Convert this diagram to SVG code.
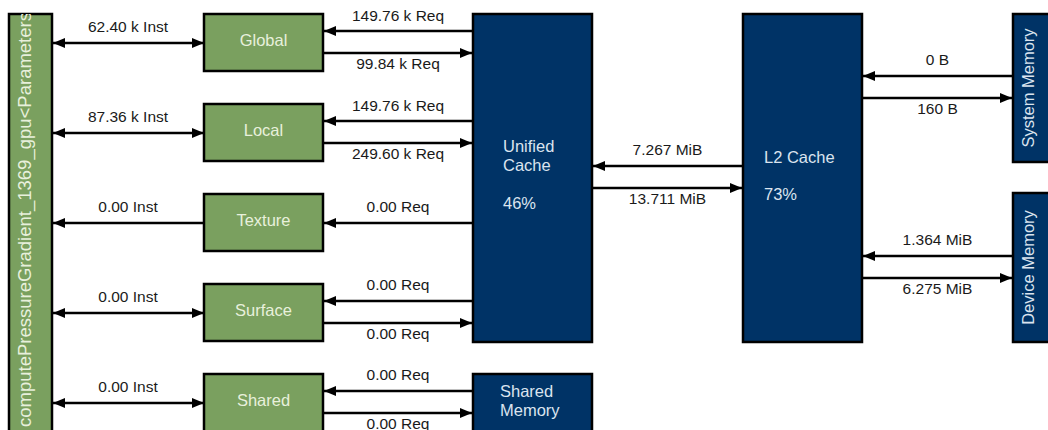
<svg xmlns="http://www.w3.org/2000/svg" width="1048" height="430" viewBox="0 0 1048 430">
<style>
.g{fill:#7aa05f;stroke:#000;stroke-width:2.5}
.b{fill:#003366;stroke:#000;stroke-width:2.5}
.gt{fill:#e8f0dc;font-family:"Liberation Sans",Arial,sans-serif;font-size:16.5px}
.bt{fill:#dbe4ef;font-family:"Liberation Sans",Arial,sans-serif;font-size:16.5px}
.lbl{fill:#1a1a1a;font-family:"Liberation Sans",Arial,sans-serif;font-size:15.5px;text-anchor:middle}
.c line{stroke:#000;stroke-width:2.3}
.m{text-anchor:middle}
</style>
<defs>
<marker id="ah" viewBox="0 0 12 10" refX="12" refY="5" markerWidth="12" markerHeight="10" markerUnits="userSpaceOnUse" orient="auto-start-reverse">
<path d="M0,0 L12,5 L0,10 z" fill="#000"/>
</marker>
<clipPath id="kc"><rect x="9" y="14" width="43" height="430"/></clipPath>
</defs>
<g id="kernel">
<rect class="g" x="9" y="14" width="43" height="430"/>
<g clip-path="url(#kc)"><text class="gt" style="font-size:18.5px" transform="translate(31,427) rotate(-90)">computePressureGradient_1369_gpu&lt;Parameters</text></g>
</g>
<g id="global"><rect class="g" x="204" y="14" width="119" height="57"/><text class="gt m" x="263.5" y="46">Global</text></g>
<g id="local"><rect class="g" x="204" y="104" width="119" height="57"/><text class="gt m" x="263.5" y="136">Local</text></g>
<g id="texture"><rect class="g" x="204" y="194" width="119" height="57"/><text class="gt m" x="263.5" y="226">Texture</text></g>
<g id="surface"><rect class="g" x="204" y="284" width="119" height="57"/><text class="gt m" x="263.5" y="316">Surface</text></g>
<g id="shared"><rect class="g" x="204" y="374" width="119" height="70"/><text class="gt m" x="263.5" y="406">Shared</text></g>
<g id="unified"><rect class="b" x="473" y="14" width="119" height="328"/><text class="bt" x="503" y="152">Unified</text><text class="bt" x="503" y="171">Cache</text><text class="bt" x="503" y="209">46%</text></g>
<g id="sharedmem"><rect class="b" x="473" y="374" width="119" height="70"/><text class="bt" x="500" y="397">Shared</text><text class="bt" x="500" y="416">Memory</text></g>
<g id="l2"><rect class="b" x="743" y="14" width="119" height="328"/><text class="bt" x="764" y="163">L2 Cache</text><text class="bt" x="764" y="200">73%</text></g>
<g id="sysmem"><rect class="b" x="1013" y="14" width="50" height="148"/><text class="bt m" transform="translate(1034,88) rotate(-90)">System Memory</text></g>
<g id="devmem"><rect class="b" x="1013" y="193" width="50" height="149"/><text class="bt m" transform="translate(1034,267.5) rotate(-90)">Device Memory</text></g>
<g id="connectors" class="c">
<line x1="53" y1="43" x2="204" y2="43" marker-start="url(#ah)" marker-end="url(#ah)"/>
<line x1="53" y1="133" x2="204" y2="133" marker-start="url(#ah)" marker-end="url(#ah)"/>
<line x1="53" y1="223" x2="204" y2="223" marker-start="url(#ah)"/>
<line x1="53" y1="313" x2="204" y2="313" marker-start="url(#ah)" marker-end="url(#ah)"/>
<line x1="53" y1="403" x2="204" y2="403" marker-start="url(#ah)" marker-end="url(#ah)"/>
<line x1="473" y1="31" x2="324" y2="31" marker-end="url(#ah)"/>
<line x1="323" y1="53" x2="472" y2="53" marker-end="url(#ah)"/>
<line x1="473" y1="121" x2="324" y2="121" marker-end="url(#ah)"/>
<line x1="323" y1="143" x2="472" y2="143" marker-end="url(#ah)"/>
<line x1="473" y1="223" x2="324" y2="223" marker-end="url(#ah)"/>
<line x1="473" y1="301" x2="324" y2="301" marker-end="url(#ah)"/>
<line x1="323" y1="323" x2="472" y2="323" marker-end="url(#ah)"/>
<line x1="473" y1="391" x2="324" y2="391" marker-end="url(#ah)"/>
<line x1="323" y1="413" x2="472" y2="413" marker-end="url(#ah)"/>
<line x1="743" y1="166" x2="593" y2="166" marker-end="url(#ah)"/>
<line x1="592" y1="188" x2="742" y2="188" marker-end="url(#ah)"/>
<line x1="1013" y1="76" x2="863" y2="76" marker-end="url(#ah)"/>
<line x1="862" y1="98" x2="1012" y2="98" marker-end="url(#ah)"/>
<line x1="1013" y1="256" x2="863" y2="256" marker-end="url(#ah)"/>
<line x1="862" y1="278" x2="1012" y2="278" marker-end="url(#ah)"/>
</g>
<g id="labels">
<text class="lbl" x="128" y="32">62.40 k Inst</text>
<text class="lbl" x="128" y="122">87.36 k Inst</text>
<text class="lbl" x="128" y="212">0.00 Inst</text>
<text class="lbl" x="128" y="302">0.00 Inst</text>
<text class="lbl" x="128" y="392">0.00 Inst</text>
<text class="lbl" x="398" y="21">149.76 k Req</text>
<text class="lbl" x="398" y="69">99.84 k Req</text>
<text class="lbl" x="398" y="111">149.76 k Req</text>
<text class="lbl" x="398" y="159">249.60 k Req</text>
<text class="lbl" x="398" y="212">0.00 Req</text>
<text class="lbl" x="398" y="290">0.00 Req</text>
<text class="lbl" x="398" y="339">0.00 Req</text>
<text class="lbl" x="398" y="380">0.00 Req</text>
<text class="lbl" x="398" y="429">0.00 Req</text>
<text class="lbl" x="667.5" y="155">7.267 MiB</text>
<text class="lbl" x="667.5" y="204">13.711 MiB</text>
<text class="lbl" x="937.5" y="65">0 B</text>
<text class="lbl" x="937.5" y="114">160 B</text>
<text class="lbl" x="937.5" y="245">1.364 MiB</text>
<text class="lbl" x="937.5" y="294">6.275 MiB</text>
</g>
</svg>
